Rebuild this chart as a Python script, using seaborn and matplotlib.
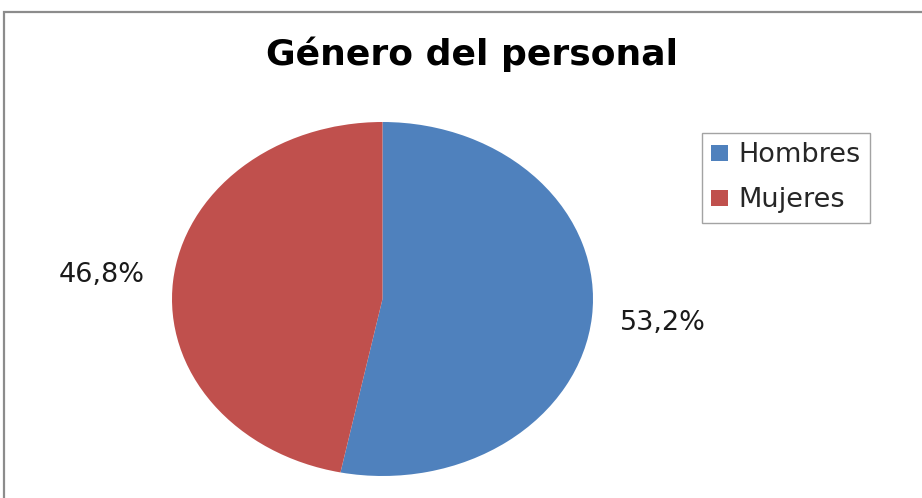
import matplotlib
matplotlib.use("Agg")
import matplotlib.pyplot as plt
import seaborn as sns
from matplotlib.patches import Rectangle

categories = ["Hombres", "Mujeres"]
shares = [53.2, 46.8]
colors = ["#4F81BD", "#C0504D"]
title = "Género del personal"

sns.set_theme(style="white")
plt.rcParams["font.family"] = ["DejaVu Sans"]

W, H = 922, 498
fig = plt.figure(figsize=(W / 100, H / 100), dpi=100)
fig.patch.set_facecolor("white")

# chart frame (extends past the right and bottom edges)
fig.patches.append(Rectangle((4 / W, -0.05), 1.1, 1.05 - 12 / H,
                             transform=fig.transFigure, fill=False,
                             edgecolor="#8c8c8c", linewidth=1.6))

# the pie is drawn stretched into an ellipse
ax = fig.add_axes([172 / W, (H - 476) / H, 421 / W, 354 / H])
wedges, texts, autotexts = ax.pie(
    shares, colors=colors, startangle=90, counterclock=False,
    autopct=lambda p: f"{p:.1f}%".replace(".", ","),
    pctdistance=1.34, wedgeprops=dict(linewidth=0),
    textprops=dict(fontsize=19.5, color="#1a1a1a"))
ax.set_aspect("auto")
ax.set_xlim(-1, 1)
ax.set_ylim(-1, 1)
ax.axis("off")

fig.text(472 / W, 1 - 54 / H, title, ha="center", va="center",
         fontsize=26, fontweight="bold", color="black")

leg = fig.legend(wedges, categories, loc="upper left",
                 bbox_to_anchor=(702 / W, 1 - 133 / H),
                 fontsize=19.5, frameon=True, fancybox=False,
                 handlelength=0.6, handleheight=0.5, handletextpad=0.4,
                 borderpad=0.35, labelspacing=0.7, borderaxespad=0)
leg.get_frame().set_edgecolor("#8c8c8c")
leg.get_frame().set_linewidth(1.0)

fig.savefig("out.png", dpi=100, facecolor="white")
